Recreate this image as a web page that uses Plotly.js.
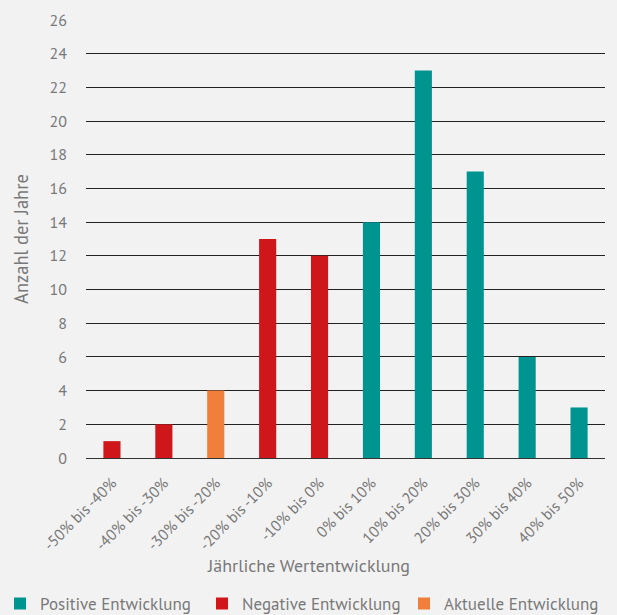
<!DOCTYPE html>
<html><head><meta charset="utf-8">
<script src="https://cdn.plot.ly/plotly-3.0.1.min.js"></script>
<style>body{margin:0;background:#f2f2f2}</style>
</head><body><div id="chart" style="width:617px;height:615px"></div>
<script>
const categories = ["-50% bis -40%","-40% bis -30%","-30% bis -20%","-20% bis -10%","-10% bis 0%","0% bis 10%","10% bis 20%","20% bis 30%","30% bis 40%","40% bis 50%"];
const tickLabels = ["-50% bis -40%","-40% bis -30%","-30% bis -20%","-20% bis -10%","-10% bis 0%","0% bis 10%","10% bis 20%","20% bis 30%","30% bis 40%","40% bis 50%"];
const values = [1, 2, 4, 13, 12, 14, 23, 17, 6, 3];
const groups = ["neg","neg","akt","neg","neg","pos","pos","pos","pos","pos"];
const seriesNames = {pos:"Positive Entwicklung", neg:"Negative Entwicklung", akt:"Aktuelle Entwicklung"};
const seriesColors = {pos:"#009490", neg:"#cf171b", akt:"#f07f3c"};
const order = ["pos","neg","akt"];

const traces = order.map(g => ({
  type: "bar",
  name: seriesNames[g],
  x: categories.filter((c,i) => groups[i] === g),
  y: values.filter((v,i) => groups[i] === g),
  marker: {color: seriesColors[g]},
  width: 0.33,
  hoverinfo: "x+y"
}));

const font = "'PT Sans', 'Open Sans', 'Noto Sans', sans-serif";
const layout = {
  width: 617, height: 615,
  paper_bgcolor: "#f2f2f2", plot_bgcolor: "#f2f2f2",
  margin: {l: 86, r: 12, t: 19.5, b: 157, autoexpand: false},
  barmode: "overlay",
  font: {family: font, color: "#787878", size: 15},
  showlegend: true,
  legend: {orientation: "h", xref: "paper", yref: "paper", x: -0.1657, xanchor: "left",
           y: -0.333, yanchor: "middle",
           font: {size: 17, color: "#787878"}, traceorder: "normal",
           entrywidth: 157, entrywidthmode: "pixels", itemwidth: 30},
  xaxis: {
    type: "category", categoryorder: "array", categoryarray: categories,
    tickvals: categories, ticktext: tickLabels,
    tickangle: -45, showgrid: false, zeroline: false, showline: false,
    ticklabelstandoff: 12,
    tickfont: {size: 15.5, color: "#787878"}, ticks: "", fixedrange: true
  },
  yaxis: {
    range: [0, 26], dtick: 2, tick0: 0,
    showgrid: true, gridcolor: "#222222", gridwidth: 1,
    zeroline: true, zerolinecolor: "#333333", zerolinewidth: 1,
    showline: false, ticks: "", ticklabelstandoff: 18,
    tickfont: {size: 16, color: "#787878"},
    title: {text: "Anzahl der Jahre", font: {size: 18.5, color: "#787878"}, standoff: 16},
    fixedrange: true
  },
  annotations: [{
    text: "Jährliche Wertentwicklung", showarrow: false,
    xref: "paper", yref: "paper", x: 0.428, y: -0.245, xanchor: "center", yanchor: "middle",
    font: {size: 18, color: "#787878"}
  }]
};
Plotly.newPlot("chart", traces, layout, {displayModeBar: false, staticPlot: true});
</script></body></html>
